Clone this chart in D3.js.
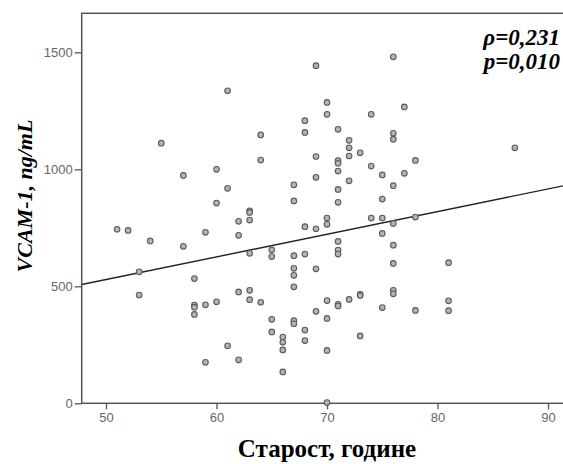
<!DOCTYPE html>
<html>
<head>
<meta charset="utf-8">
<script src="https://cdn.jsdelivr.net/npm/d3@7"></script>
<style>
  body { margin: 0; background: #fff; }
  svg { display: block; }
</style>
</head>
<body>
<div id="chart"></div>
<script>
// age (years) and VCAM-1 (ng/mL)
const ages = [
  61, 55, 57, 60, 61, 60, 64, 64, 63, 63, 62, 63, 68, 68, 67, 67,
  69, 76, 70, 70, 77, 74, 71, 72, 72, 72, 73, 76, 76, 69, 69, 71,
  71, 71, 72, 74, 75, 77, 78, 76, 71, 71, 75, 87, 70, 74, 75, 78,
  51, 52, 54, 57, 59, 62, 63, 65, 65, 67, 68, 68, 67, 67, 67, 53,
  53, 58, 58, 58, 58, 59, 60, 62, 63, 63, 64, 65, 65, 67, 67, 68,
  68, 66, 66, 66, 66, 61, 62, 59, 69, 70, 76, 75, 71, 71, 71, 76,
  69, 76, 81, 70, 69, 70, 71, 71, 72, 73, 73, 75, 76, 76, 78, 81,
  81, 73, 70, 70
];
const vcam = [
  1336, 1112, 974, 1000, 919, 856, 1147, 1040, 823, 816, 778, 783, 1208, 1158, 934, 865,
  1443, 1481, 1286, 1235, 1267, 1235, 1171, 1124, 1092, 1057, 1071, 1154, 1129, 1055, 966, 1037,
  1026, 993, 951, 1014, 976, 983, 1038, 930, 914, 859, 873, 1092, 792, 792, 792, 796,
  744, 739, 694, 671, 731, 718, 641, 656, 627, 631, 755, 638, 577, 547, 498, 562,
  463, 533, 420, 411, 380, 421, 434, 476, 483, 443, 432, 359, 305, 353, 340, 313,
  268, 283, 261, 228, 134, 246, 186, 175, 746, 765, 769, 726, 692, 655, 638, 676,
  575, 598, 601, 439, 393, 363, 423, 416, 444, 466, 461, 409, 483, 468, 397, 438,
  396, 288, 226, 3
];
const xTicks = [50, 60, 70, 80, 90];
const yTicks = [0, 500, 1000, 1500];
const xDomain = [47.8, 92.2];
const yDomain = [0, 1667];
// fit line as drawn in the figure
const fitIntercept = 45;
const fitSlope = 9.68;
const statLines = ["ρ=0,231", "p=0,010"];
const xTitle = "Старост, године";
const yTitle = "VCAM-1, ng/mL";

const width = 563, height = 464;
const plotLeft = 81.7, plotTop = 13.3, plotBottom = 403.3;
const plotRight = plotLeft + (xDomain[1] - xDomain[0]) * 11.05;
const serif = "'Liberation Serif', 'Times New Roman', Times, serif";

const svg = d3.select("#chart").append("svg")
  .attr("width", width)
  .attr("height", height)
  .attr("viewBox", [0, 0, width, height]);

const x = d3.scaleLinear().domain(xDomain).range([plotLeft, plotRight]);
const y = d3.scaleLinear().domain(yDomain).range([plotBottom, plotTop]);

const axisColor = "#555";

// frame
svg.append("rect")
  .attr("x", plotLeft).attr("y", plotTop)
  .attr("width", plotRight - plotLeft).attr("height", plotBottom - plotTop)
  .attr("fill", "none")
  .attr("stroke", axisColor)
  .attr("stroke-width", 1.5);

const gx = svg.append("g")
  .attr("transform", `translate(0,${plotBottom})`)
  .call(d3.axisBottom(x).tickValues(xTicks).tickFormat(d3.format("d"))
    .tickSize(6).tickSizeOuter(0).tickPadding(3));
const gy = svg.append("g")
  .attr("transform", `translate(${plotLeft},0)`)
  .call(d3.axisLeft(y).tickValues(yTicks).tickFormat(d3.format("d"))
    .tickSize(7).tickSizeOuter(0).tickPadding(2));

[gx, gy].forEach((g) => {
  g.select(".domain").remove();
  g.selectAll(".tick line").attr("stroke", axisColor).attr("stroke-width", 1.3);
  g.selectAll(".tick text")
    .attr("fill", "#666")
    .style("font-family", "'Liberation Sans Narrow', 'Liberation Sans', Arial, sans-serif")
    .style("font-size", "13px");
});

// regression line
svg.append("clipPath").attr("id", "plotclip")
  .append("rect").attr("x", plotLeft).attr("y", plotTop)
  .attr("width", plotRight - plotLeft).attr("height", plotBottom - plotTop);

svg.append("line")
  .attr("clip-path", "url(#plotclip)")
  .attr("x1", x(xDomain[0])).attr("y1", y(fitIntercept + fitSlope * xDomain[0]))
  .attr("x2", x(xDomain[1])).attr("y2", y(fitIntercept + fitSlope * xDomain[1]))
  .attr("stroke", "#222")
  .attr("stroke-width", 1.4);

// points
svg.append("g")
  .selectAll("circle")
  .data(d3.zip(ages, vcam))
  .enter()
  .append("circle")
  .attr("cx", (d) => x(d[0]))
  .attr("cy", (d) => y(d[1]))
  .attr("r", 2.8)
  .attr("fill", "#b4b4b4")
  .attr("stroke", "#5a5a5a")
  .attr("stroke-width", 1.1);

// stats
svg.append("g")
  .selectAll("text")
  .data(statLines)
  .enter()
  .append("text")
  .attr("x", 560)
  .attr("y", (d, i) => 45 + i * 24)
  .attr("text-anchor", "end")
  .style("font-family", serif)
  .style("font-weight", "bold")
  .style("font-style", "italic")
  .style("font-size", "23px")
  .text((d) => d);

// titles
svg.append("text")
  .attr("x", 327)
  .attr("y", 457)
  .attr("text-anchor", "middle")
  .style("font-family", serif)
  .style("font-weight", "bold")
  .style("font-size", "25px")
  .text(xTitle);

svg.append("text")
  .attr("transform", `translate(32,196) rotate(-90)`)
  .attr("text-anchor", "middle")
  .style("font-family", serif)
  .style("font-weight", "bold")
  .style("font-style", "italic")
  .style("font-size", "22px")
  .text(yTitle);
</script>
</body>
</html>
